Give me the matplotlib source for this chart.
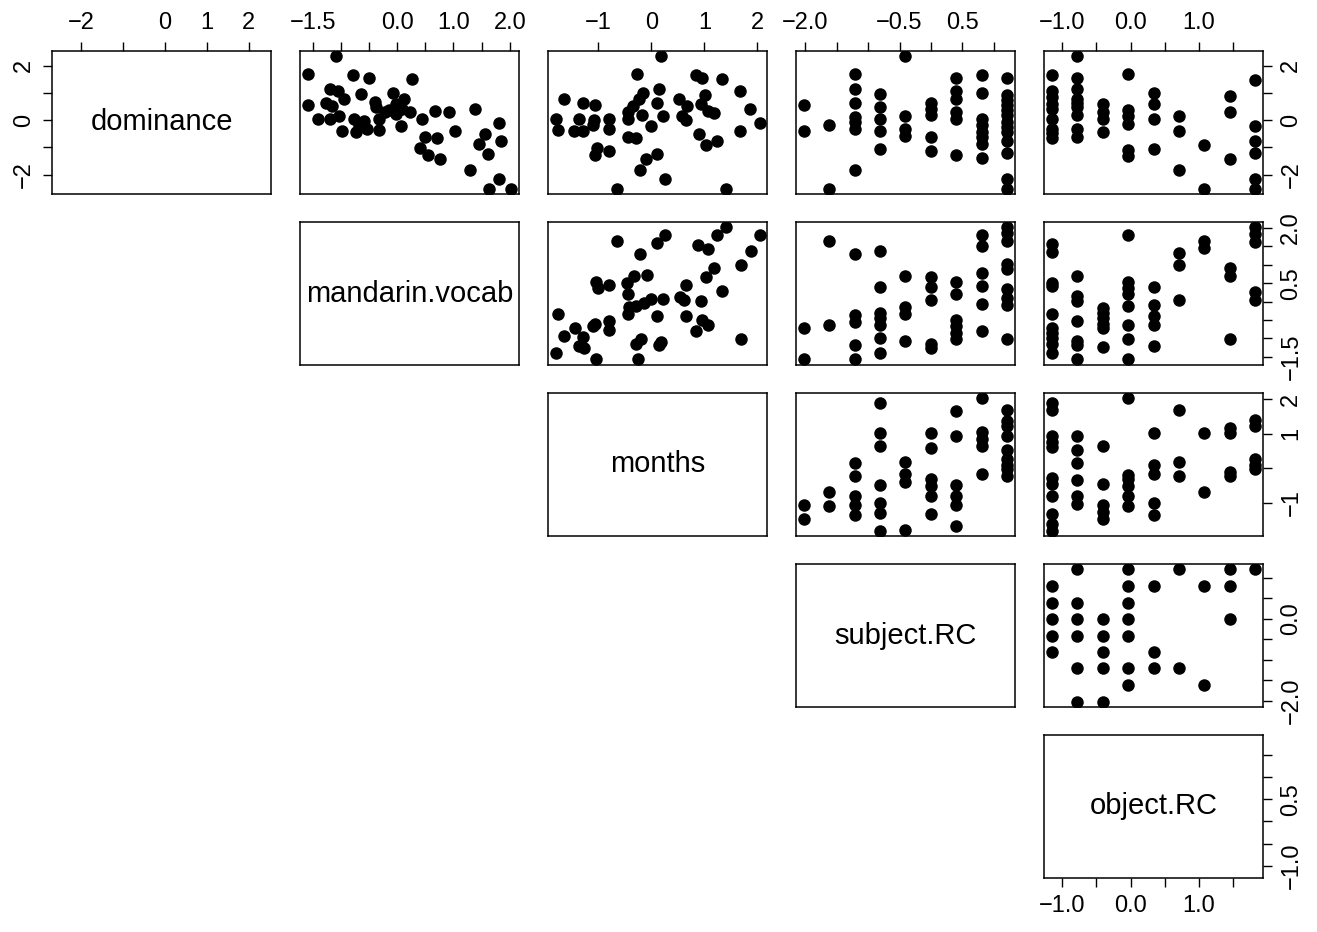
import numpy as np
import matplotlib

matplotlib.use("Agg")

import matplotlib.pyplot as plt

plt.rcParams['font.family'] = ['Liberation Sans', 'DejaVu Sans']


# ======================================
# VARIABLES
# ======================================

VAR_NAMES = ["dominance", "mandarin.vocab", "months", "subject.RC", "object.RC"]
VAR_MIN = [-2.51, -1.58, -1.80, -2.02, -1.15]
VAR_MAX = [2.34, 2.02, 2.03, 1.21, 1.82]

TICKS = [
    [-2, -1, 0, 1, 2],
    [-1.5, -1.0, -0.5, 0.0, 0.5, 1.0, 1.5, 2.0],
    [-1, 0, 1, 2],
    [-2.0, -1.5, -1.0, -0.5, 0.0, 0.5, 1.0],
    [-1.0, -0.5, 0.0, 0.5, 1.0, 1.5],
]
# labels R kept on the horizontal axes (others dropped for overlap)
X_LABELS = [
    ["\u22122", "", "0", "1", "2"],
    ["\u22121.5", "", "", "0.0", "", "1.0", "", "2.0"],
    ["\u22121", "0", "1", "2"],
    ["\u22122.0", "", "", "\u22120.5", "", "0.5", ""],
    ["\u22121.0", "", "0.0", "", "1.0", ""],
]
# labels kept on the vertical axes
Y_LABELS = [
    ["\u22122", "", "0", "", "2"],
    ["\u22121.5", "", "", "", "0.5", "", "", "2.0"],
    ["\u22121", "", "1", "2"],
    ["\u22122.0", "", "", "", "0.0", "", ""],
    ["\u22121.0", "", "", "0.5", "", ""],
]

# discrete levels of the two RC scores
SUBJ_LEVELS = [-2.02, -1.62, -1.21, -0.81, -0.41, 0.00, 0.40, 0.81, 1.21]
OBJ_LEVELS = [-1.15, -0.78, -0.41, -0.04, 0.34, 0.71, 1.08, 1.45, 1.82]


# ======================================
# PANEL DATA
# ======================================

vocab_x_dom = [-1.09, -1.58, -0.79, -0.50, 0.27, -1.20, -1.05, -0.95, -0.64, -0.08,
               0.13, -1.58, -1.26, -1.15, -0.39, -0.37, -0.02, -0.14, 0.09, 0.22,
               -1.41, -1.20, -1.04, -0.76, -0.58, -0.33, -0.21, -0.02, 0.44, 0.68,
               0.93, 1.39, 1.81, -0.98, -0.73, -0.54, -0.33, -0.67, 0.07, 1.02,
               0.50, 0.70, 1.56, 1.84, 1.46, 0.41, 0.54, 0.76, 1.62, 1.29,
               1.81, 1.64, 2.02]
dom_y_vocab = [2.35, 1.70, 1.64, 1.54, 1.52, 1.13, 1.06, 0.79, 0.95, 1.01,
               0.76, 0.57, 0.64, 0.52, 0.67, 0.48, 0.60, 0.36, 0.42, 0.30,
               0.03, 0.06, 0.15, 0.06, -0.04, 0.03, 0.30, 0.24, 0.03, 0.32,
               0.30, 0.42, -0.09, -0.41, -0.43, -0.34, -0.37, -0.19, -0.21, -0.40,
               -0.62, -0.65, -0.49, -0.77, -0.88, -1.02, -1.29, -1.41, -1.23, -1.83,
               -2.16, -2.51, -2.51]

months_x_dom = [0.19, -0.27, 0.84, 0.96, 1.34, 0.14, -0.15, 1.68, 1.02, -1.66,
                -1.30, -1.07, -0.23, 0.10, 0.52, 0.67, 0.93, 1.87, -1.81, -1.37,
                -1.08, -0.80, -0.45, -0.34, -0.17, 0.21, 0.58, 1.06, 1.19, 2.05,
                -1.76, -1.46, -1.30, -1.11, -0.80, -0.45, -0.01, 0.65, 1.68, -0.45,
                -0.30, 0.90, -1.02, -1.07, -0.80, 0.10, -0.11, 1.04, 1.24, -0.21,
                0.25, -0.65, 1.40]
dom_y_months = [2.35, 1.70, 1.66, 1.54, 1.52, 1.13, 1.01, 1.06, 0.93, 0.76,
                0.63, 0.57, 0.79, 0.64, 0.76, 0.52, 0.60, 0.42, 0.06, 0.06,
                -0.01, 0.06, 0.30, 0.52, 0.20, 0.15, 0.15, 0.32, 0.28, -0.09,
                -0.37, -0.41, -0.41, -0.16, -0.34, 0.03, -0.21, 0.00, -0.41, -0.62,
                -0.64, -0.49, -1.02, -1.29, -1.14, -1.23, -1.41, -0.90, -0.77, -1.83,
                -2.16, -2.51, -2.51]

# dominance values in each subject.RC column
dom_by_subj = [
    [0.57, -0.41],
    [-0.19, -2.51],
    [1.70, 1.13, 0.64, 0.12, -0.07, -0.34, -1.83],
    [0.95, 0.48, 0.03, -0.41, -1.04],
    [2.35, 0.15, -0.34, -0.58],
    [0.64, 0.42, 0.20, -0.62, -1.14],
    [1.54, 1.06, 0.76, 0.30, 0.06, -1.29],
    [1.64, 1.01, 0.03, -0.16, -0.43, -0.62, -0.86, -1.38],
    [1.54, 0.91, 0.73, 0.54, 0.36, 0.18, -0.07, -0.25, -0.43, -0.77, -1.19, -2.14, -2.51],
]
# dominance values in each object.RC column
dom_by_obj = [
    [1.64, 1.06, 0.85, 0.60, 0.42, 0.03, -0.34, -0.46, -0.65],
    [2.35, 1.54, 1.13, 0.76, 0.64, 0.48, 0.20, -0.31, -0.62],
    [0.60, 0.30, 0.03, -0.43],
    [1.70, 0.36, 0.15, -0.13, -1.10, -1.31],
    [1.01, 0.60, 0.06, -1.04],
    [0.15, -0.41, -1.83],
    [-0.90, -2.51],
    [0.88, 0.30, -1.41],
    [1.49, -0.21, -0.77, -1.19, -2.14, -2.51],
]

months_x_vocab = [1.40, 1.24, 0.25, 0.10, -0.65, 2.05, 0.88, 1.06, -0.21, 1.89,
                  1.70, 1.19, 1.04, -0.09, -0.32, -0.47, -0.45, -1.05, -1.01, -0.80,
                  0.65, 1.34, 0.54, 0.62, 0.94, 0.21, 0.00, -0.14, -0.30, -0.42,
                  -0.45, 0.10, 0.65, -1.76, 0.96, 1.06, 0.85, -1.45, -1.30, -1.65,
                  -1.37, -1.28, -1.07, -1.11, -0.80, -0.80, -0.20, -0.30, 0.19, 0.14,
                  1.70, -1.80, -1.05, -0.25]
vocab_y_months = [2.04, 1.82, 1.82, 1.59, 1.64, 1.80, 1.55, 1.44, 1.29, 1.37,
                  1.00, 0.91, 0.66, 0.73, 0.69, 0.51, 0.21, 0.53, 0.37, 0.44,
                  0.44, 0.28, 0.12, 0.05, 0.01, 0.08, 0.08, -0.04, -0.13, -0.16,
                  -0.34, -0.38, -0.38, -0.34, -0.49, -0.64, -0.79, -0.72, -0.97, -0.94,
                  -1.21, -1.26, -0.61, -0.67, -0.53, -0.76, -1.01, -1.15, -1.10, -1.19,
                  -1.03, -1.39, -1.57, -1.57]

vocab_by_subj = [
    [-0.72, -1.57],
    [1.64, -0.64],
    [1.29, -0.37, -0.55, -1.19, -1.57],
    [1.37, 0.39, -0.31, -0.44, -0.64, -0.99, -1.39],
    [0.69, -0.16, -0.34, -1.06],
    [0.66, 0.39, 0.05, -1.15, -1.26],
    [0.53, 0.21, -0.49, -0.67, -0.85, -1.03],
    [1.82, 1.50, 0.78, 0.42, -0.06, -0.79],
    [2.04, 1.86, 1.64, 1.02, 0.89, 0.33, 0.10, -0.10, -1.01],
]
vocab_by_obj = [
    [1.56, 1.35, 0.51, 0.42, -0.35, -0.72, -0.85, -0.99, -1.15, -1.39],
    [0.69, 0.14, 0.01, -0.53, -1.08, -1.19, -1.57],
    [-0.17, -0.31, -0.44, -0.61, -0.73, -1.24],
    [1.80, 0.53, 0.37, 0.21, -0.13, -0.64, -1.03, -1.57],
    [0.39, -0.08, -0.40, -0.64, -1.21],
    [1.32, 1.00, 0.05],
    [1.64, 1.46],
    [0.91, 0.69, -1.01],
    [2.04, 1.84, 1.62, 0.26, 0.05],
]

months_by_subj = [
    [-1.05, -1.46],
    [-0.67, -1.09],
    [0.16, -0.23, -0.80, -1.07, -1.36],
    [1.89, 1.03, 0.64, -0.48, -1.00, -1.29, -1.80],
    [0.20, -0.16, -0.38, -1.77],
    [1.03, 0.58, -0.30, -0.50, -0.79, -1.31],
    [1.67, 0.93, -0.48, -0.80, -1.05, -1.65],
    [2.03, 1.05, 0.85, 0.64, -0.16],
    [1.70, 1.38, 1.22, 0.95, 0.54, 0.26, 0.10, -0.01, -0.23],
]
months_by_obj = [
    [1.89, 1.70, 0.93, 0.76, 0.61, -0.28, -0.45, -0.80, -1.31, -1.60, -1.80],
    [0.93, 0.54, 0.16, -0.32, -0.79, -1.03],
    [0.64, -0.45, -1.05, -1.27, -1.46],
    [2.03, -0.19, -0.30, -0.50, -0.80, -1.09],
    [1.03, 0.10, -0.16, -1.00, -1.36],
    [1.70, 0.18, -0.23],
    [1.03, -0.67],
    [1.16, 1.03, -0.11, -0.23],
    [1.41, 1.22, 0.26, 0.10, -0.01],
]

# subject.RC (rows) against object.RC (columns)
obj_x_subj = [-0.78, -0.04, 0.71, 1.45, 1.82,
              -1.15, -0.04, 0.34, 1.08, 1.45,
              -1.15, -0.78, -0.04,
              -1.15, -0.78, -0.41, -0.04, 1.45,
              -1.15, -0.78, -0.41, -0.04,
              -1.15, -0.41, 0.34,
              -0.78, -0.41, -0.04, 0.34, 0.71,
              -0.04, 1.08,
              -0.78, -0.41]
subj_y_obj = [1.21, 1.21, 1.21, 1.21, 1.21,
              0.81, 0.81, 0.81, 0.81, 0.81,
              0.40, 0.40, 0.40,
              0.00, 0.00, 0.00, 0.00, 0.00,
              -0.41, -0.41, -0.41, -0.41,
              -0.81, -0.81, -0.81,
              -1.21, -1.21, -1.21, -1.21, -1.21,
              -1.62, -1.62,
              -2.02, -2.02]


def columns(levels, groups):
    xs, ys = [], []
    for lev, vals in zip(levels, groups):
        xs += [lev] * len(vals)
        ys += vals
    return xs, ys


subj_x_dom, dom_y_subj = columns(SUBJ_LEVELS, dom_by_subj)
obj_x_dom, dom_y_obj = columns(OBJ_LEVELS, dom_by_obj)
subj_x_vocab, vocab_y_subj = columns(SUBJ_LEVELS, vocab_by_subj)
obj_x_vocab, vocab_y_obj = columns(OBJ_LEVELS, vocab_by_obj)
subj_x_months, months_y_subj = columns(SUBJ_LEVELS, months_by_subj)
obj_x_months, months_y_obj = columns(OBJ_LEVELS, months_by_obj)

PANELS = {
    (0, 1): (vocab_x_dom, dom_y_vocab),
    (0, 2): (months_x_dom, dom_y_months),
    (0, 3): (subj_x_dom, dom_y_subj),
    (0, 4): (obj_x_dom, dom_y_obj),
    (1, 2): (months_x_vocab, vocab_y_months),
    (1, 3): (subj_x_vocab, vocab_y_subj),
    (1, 4): (obj_x_vocab, vocab_y_obj),
    (2, 3): (subj_x_months, months_y_subj),
    (2, 4): (obj_x_months, months_y_obj),
    (3, 4): (obj_x_subj, subj_y_obj),
}


# ======================================
# FIGURE
# ======================================

W, H = 1317, 932
fig = plt.figure(figsize=(W / 100, H / 100), dpi=100)


def var_lim(i):
    span = VAR_MAX[i] - VAR_MIN[i]
    return VAR_MIN[i] - 0.04 * span, VAR_MAX[i] + 0.04 * span


n = len(VAR_NAMES)
for r in range(n):
    for c in range(r, n):
        left = 52 + 248 * c
        top = 51 + 171 * r
        ax = fig.add_axes([left / W, (H - top - 143) / H, 219 / W, 143 / H])
        ax.set_xlim(*var_lim(c))
        ax.set_ylim(*var_lim(r))
        ax.set_xticks([])
        ax.set_yticks([])
        for s in ax.spines.values():
            s.set_linewidth(1.1)

        if r == c:
            ax.text(0.5, 0.5, VAR_NAMES[r], transform=ax.transAxes,
                    ha="center", va="center", fontsize=21)
        else:
            x, y = PANELS[(r, c)]
            ax.plot(x, y, "o", color="black", markersize=9, markeredgewidth=0)

        tick_kw = dict(direction="out", length=6.5, width=1.0, pad=6, labelsize=17)

        if r == 0:
            ax.xaxis.set_ticks_position("top")
            ax.set_xticks(TICKS[c])
            ax.set_xticklabels(X_LABELS[c])
            ax.tick_params(axis="x", **tick_kw)
        if r == n - 1:
            ax.xaxis.set_ticks_position("bottom")
            ax.set_xticks(TICKS[c])
            ax.set_xticklabels(X_LABELS[c])
            ax.tick_params(axis="x", **tick_kw)
        if c == 0:
            ax.yaxis.set_ticks_position("left")
            ax.set_yticks(TICKS[r])
            ax.set_yticklabels(Y_LABELS[r], rotation=90, va="center")
            ax.tick_params(axis="y", **tick_kw)
        if c == n - 1:
            ax.yaxis.set_ticks_position("right")
            ax.set_yticks(TICKS[r])
            ax.set_yticklabels(Y_LABELS[r], rotation=90, va="center")
            ax.tick_params(axis="y", **tick_kw)

fig.savefig("out.png", dpi=100)
